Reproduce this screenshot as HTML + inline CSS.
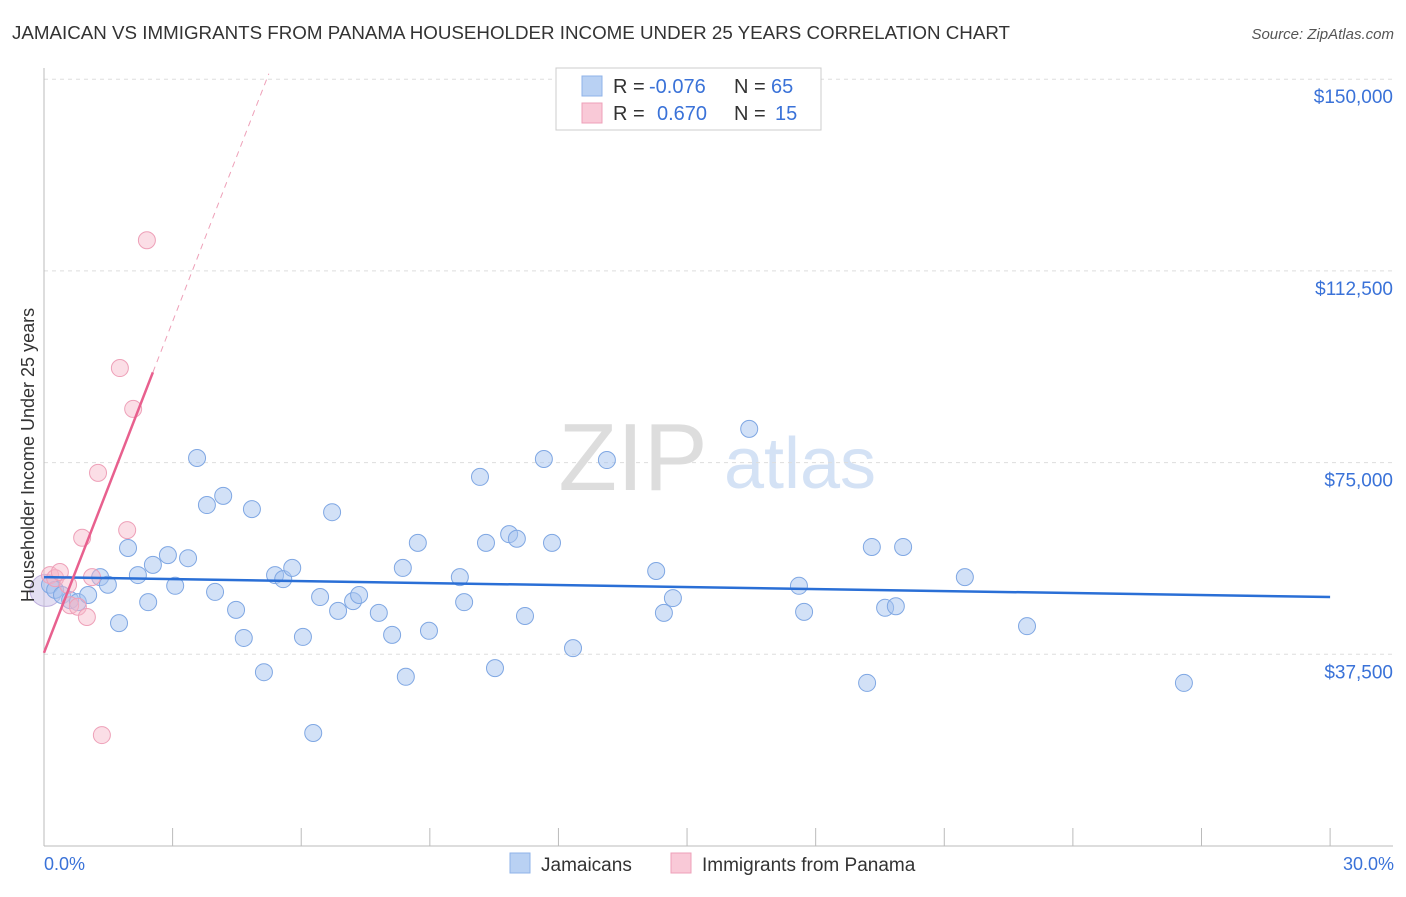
<!DOCTYPE html>
<html><head><meta charset="utf-8"><style>
body{margin:0;background:#fff;font-family:"Liberation Sans",sans-serif;}
svg text{font-family:"Liberation Sans",sans-serif;}
</style></head><body>
<svg id="chart" width="1406" height="892">
<text x="12" y="39" font-size="18" fill="#333" textLength="998" lengthAdjust="spacingAndGlyphs">JAMAICAN VS IMMIGRANTS FROM PANAMA HOUSEHOLDER INCOME UNDER 25 YEARS CORRELATION CHART</text>
<text x="1394" y="39" font-size="15" fill="#555" text-anchor="end" font-style="italic">Source: ZipAtlas.com</text>
<g>
<text x="633" y="490" font-size="96" fill="#ddd" font-family="Liberation Serif" text-anchor="middle">ZIP</text>
<text x="800" y="488" font-size="72" fill="#d4e2f5" text-anchor="middle">atlas</text>
</g>
<g id="grid"></g>
<g id="axes"></g>
<g id="marks"></g>
<text transform="translate(34,455) rotate(-90)" font-size="18" fill="#333" text-anchor="middle">Householder Income Under 25 years</text>
<text x="44" y="870" font-size="18" fill="#3a72d8">0.0%</text>
<text x="1394" y="870" font-size="18" fill="#3a72d8" text-anchor="end">30.0%</text>
<g>
<rect x="556" y="68" width="265" height="62" fill="#fff" stroke="#ccc"/>
<rect x="582" y="76" width="20" height="20" fill="#b9d1f3" stroke="#8fb3e8"/>
<rect x="582" y="103" width="20" height="20" fill="#f9c9d7" stroke="#eea0b8"/>
<text x="613" y="93" font-size="20" fill="#333">R =</text>
<text x="649" y="93" font-size="20" fill="#3a72d8">-0.076</text>
<text x="734" y="93" font-size="20" fill="#333">N =</text>
<text x="771" y="93" font-size="20" fill="#3a72d8">65</text>
<text x="613" y="120" font-size="20" fill="#333">R =</text>
<text x="657" y="120" font-size="20" fill="#3a72d8">0.670</text>
<text x="734" y="120" font-size="20" fill="#333">N =</text>
<text x="775" y="120" font-size="20" fill="#3a72d8">15</text>
</g>
<g>
<rect x="510" y="853" width="20" height="20" fill="#b9d1f3" stroke="#8fb3e8"/>
<text x="541" y="871" font-size="19" fill="#333">Jamaicans</text>
<rect x="671" y="853" width="20" height="20" fill="#f9c9d7" stroke="#eea0b8"/>
<text x="702" y="871" font-size="19" fill="#333">Immigrants from Panama</text>
</g>
</svg>
<script>
const yTicks=[37500,75000,112500,150000];
const yTickLabels=["$37,500","$75,000","$112,500","$150,000"];
const blueX=[0.14,0.26,0.42,0.61,0.79,1.03,1.31,1.49,1.75,1.96,2.19,2.43,2.54,2.89,3.06,3.36,3.57,3.80,3.99,4.18,4.48,4.66,4.85,5.13,5.39,5.58,5.79,6.04,6.28,6.44,6.72,6.86,7.21,7.35,7.81,8.12,8.37,8.44,8.72,8.98,9.70,9.80,10.17,10.31,10.52,10.85,11.03,11.22,11.66,11.85,12.34,13.13,14.28,14.46,14.67,16.45,17.61,17.73,19.20,19.31,19.62,19.87,20.04,21.48,22.93,26.59];
const blueY=[51.1,50.1,49.1,48.1,47.7,49.1,52.6,51.1,43.6,58.3,53.0,47.7,55.0,56.9,50.9,56.3,75.9,66.7,49.7,68.5,46.2,40.7,65.9,34.0,53.0,52.2,54.4,40.9,22.1,48.7,65.3,46.0,47.9,49.1,45.6,41.3,54.4,33.1,59.3,42.1,52.6,47.7,72.2,59.3,34.8,61.0,60.1,45.0,75.7,59.3,38.7,75.5,53.8,45.6,48.5,81.6,50.9,45.8,31.9,58.5,46.6,46.9,58.5,52.6,43.0,31.9];
const pinkX=[0.14,0.26,0.37,0.56,0.61,0.79,0.89,1.00,1.12,1.26,1.35,1.77,1.94,2.08,2.40];
const pinkY=[53.0,52.4,53.6,51.1,47.1,46.8,60.3,44.8,52.6,73.0,21.7,93.5,61.8,85.5,118.5];
const blueLine=[52.6,48.7];
const pinkLine=[37.8,21.6];
const NS="http://www.w3.org/2000/svg";
const X0=44,PXPCT=42.87,Y0=846,PXK=1/0.19562;
const sx=p=>X0+p*PXPCT, sy=v=>Y0-v*PXK;
function mk(t,a,parent){const e=document.createElementNS(NS,t);for(const k in a)e.setAttribute(k,a[k]);document.getElementById(parent).appendChild(e);return e;}
yTicks.forEach((t,i)=>{
 const y=sy(t/1000);
 const l=mk('line',{x1:44,x2:1393,y1:y,y2:y,stroke:'#ddd','stroke-dasharray':'4,4'},'grid');
 
 
 const tx=mk('text',{x:1393,y:y+24,'font-size':19,fill:'#3a72d8','text-anchor':'end'},'axes');
 tx.textContent=yTickLabels[i];
 
 
});
mk('line',{x1:44,x2:44,y1:68,y2:846,stroke:'#bbb'},'axes');
mk('line',{x1:44,x2:1393,y1:846,y2:846,stroke:'#bbb'},'axes');
for(let i=0;i<=10;i++){const x=sx(i*3);const t=mk('line',{x1:x,x2:x,y1:828,y2:846,stroke:'#bbb'},'axes');
 
 }
mk('circle',{cx:46,cy:sy(50),r:16,fill:'rgba(200,190,230,0.5)',stroke:'#bfb0dd'},'marks');
blueX.forEach((p,i)=>{const c=mk('circle',{cx:sx(p),cy:sy(blueY[i]),r:8.5,fill:'rgba(165,196,240,0.5)',stroke:'#7fa7e3','stroke-width':1},'marks');
 
 });
pinkX.forEach((p,i)=>{const c=mk('circle',{cx:sx(p),cy:sy(pinkY[i]),r:8.5,fill:'rgba(246,182,200,0.45)',stroke:'#eea0b8','stroke-width':1},'marks');
 
 });
const bl=mk('line',{x1:sx(0),y1:sy(blueLine[0]),x2:sx(30),y2:sy(blueLine[1]),stroke:'#2a6fd6','stroke-width':2.5},'marks');


const pEnd=Math.max(...pinkX)+0.14;
const pl=mk('line',{x1:sx(0),y1:sy(pinkLine[0]),x2:sx(pEnd),y2:sy(pinkLine[0]+pinkLine[1]*pEnd),stroke:'#e8608e','stroke-width':2.5},'marks');


const pDash=(150-pinkLine[0])/pinkLine[1]+0.05;
const pd=mk('line',{x1:sx(pEnd),y1:sy(pinkLine[0]+pinkLine[1]*pEnd),x2:sx(pDash),y2:sy(pinkLine[0]+pinkLine[1]*pDash),stroke:'#eea0b8','stroke-width':1,'stroke-dasharray':'6,5'},'marks');


</script>
</body></html>
